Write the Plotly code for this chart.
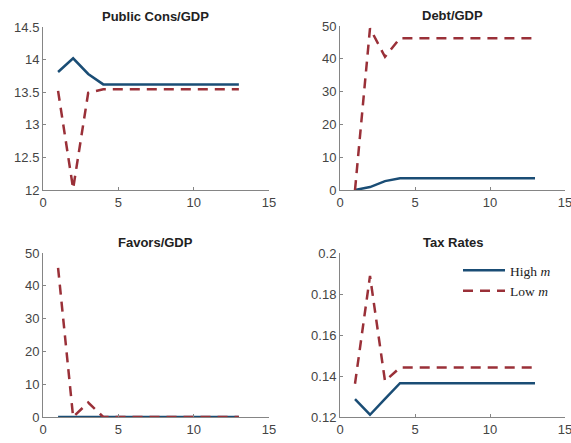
import plotly.graph_objects as go

periods = list(range(1, 14))

pubcons_high = [13.81, 14.02, 13.78, 13.62, 13.62, 13.62, 13.62, 13.62, 13.62, 13.62, 13.62, 13.62, 13.62]
pubcons_low = [13.52, 12.02, 13.49, 13.545, 13.545, 13.545, 13.545, 13.545, 13.545, 13.545, 13.545, 13.545, 13.545]

debt_high = [0.0, 0.9, 2.7, 3.6, 3.6, 3.6, 3.6, 3.6, 3.6, 3.6, 3.6, 3.6, 3.6]
debt_low = [0.0, 49.3, 40.6, 46.3, 46.3, 46.3, 46.3, 46.3, 46.3, 46.3, 46.3, 46.3, 46.3]

favors_high = [0, 0, 0, 0, 0, 0, 0, 0, 0, 0, 0, 0, 0]
favors_low = [45.5, 0.0, 4.4, 0.0, 0, 0, 0, 0, 0, 0, 0, 0, 0]

tax_high = [0.1287, 0.1211, 0.1288, 0.1365, 0.1365, 0.1365, 0.1365, 0.1365, 0.1365, 0.1365, 0.1365, 0.1365, 0.1365]
tax_low = [0.1362, 0.1888, 0.1375, 0.1441, 0.1441, 0.1441, 0.1441, 0.1441, 0.1441, 0.1441, 0.1441, 0.1441, 0.1441]

titles = ["Public Cons/GDP", "Debt/GDP", "Favors/GDP", "Tax Rates"]
x_ticks = [0, 5, 10, 15]
y_ranges = [[12, 14.5], [0, 50], [0, 50], [0.12, 0.2]]
y_ticks = [[12, 12.5, 13, 13.5, 14, 14.5], [0, 10, 20, 30, 40, 50],
           [0, 10, 20, 30, 40, 50], [0.12, 0.14, 0.16, 0.18, 0.2]]
y_ticktext = [["12", "12.5", "13", "13.5", "14", "14.5"], ["0", "10", "20", "30", "40", "50"],
              ["0", "10", "20", "30", "40", "50"], ["0.12", "0.14", "0.16", "0.18", "0.2"]]

high_series = [pubcons_high, debt_high, favors_high, tax_high]
low_series = [pubcons_low, debt_low, favors_low, tax_low]

W, H = 571, 443
BLUE = "#1a4d75"
RED = "#9a3038"

# pixel boxes (left, right, top, bottom)
boxes = [(43, 269, 27, 190), (340, 565, 26, 190), (43, 269, 253, 417), (340, 565, 253, 417)]

fig = go.Figure()
layout = dict(
    width=W, height=H, margin=dict(l=0, r=0, t=0, b=0, autoexpand=False),
    paper_bgcolor="white", plot_bgcolor="white",
    font=dict(family="Liberation Sans, Arial, sans-serif", size=13, color="#444444"),
    showlegend=True,
)
annotations = []
for i in range(4):
    l, r, t, b = boxes[i]
    xa = "x" if i == 0 else f"x{i+1}"
    ya = "y" if i == 0 else f"y{i+1}"
    fig.add_trace(go.Scatter(x=periods, y=high_series[i], mode="lines",
                             line=dict(color=BLUE, width=2.5), name="High <i>m</i>",
                             showlegend=(i == 3), xaxis=xa, yaxis=ya, cliponaxis=True))
    fig.add_trace(go.Scatter(x=periods, y=low_series[i], mode="lines",
                             line=dict(color=RED, width=2.5, dash="10px,7px"), name="Low <i>m</i>",
                             showlegend=(i == 3), xaxis=xa, yaxis=ya, cliponaxis=True))
    axis_common = dict(showgrid=False, zeroline=False, showline=True, linecolor="#858585",
                       linewidth=1, ticks="inside", ticklen=3, tickcolor="#858585",
                       automargin=False, ticklabeloverflow="allow",
                       tickfont=dict(size=13, color="#444444"))
    layout["xaxis" if i == 0 else f"xaxis{i+1}"] = dict(
        domain=[l / W, r / W], range=[0, 15], tickvals=x_ticks,
        anchor=ya, **axis_common)
    layout["yaxis" if i == 0 else f"yaxis{i+1}"] = dict(
        domain=[1 - b / H, 1 - t / H], range=y_ranges[i], tickvals=y_ticks[i],
        ticktext=y_ticktext[i], anchor=xa, **axis_common)
    annotations.append(dict(text=f"<b>{titles[i]}</b>", x=(l + r) / 2 / W, y=1 - (t - 11) / H,
                            xref="paper", yref="paper", showarrow=False,
                            font=dict(size=13, color="#222222"), xanchor="center", yanchor="middle"))

layout["annotations"] = annotations
layout["legend"] = dict(x=458 / W, y=1 - 255 / H, xanchor="left", yanchor="top",
                        bgcolor="rgba(0,0,0,0)", borderwidth=0,
                        font=dict(family="Liberation Serif, serif", size=13.5, color="#222222"),
                        tracegroupgap=0, itemwidth=42)
fig.update_layout(**layout)
fig.write_html("out.html", config={"displayModeBar": False},
               post_script="document.body.style.margin='0';document.body.style.overflow='hidden';")
